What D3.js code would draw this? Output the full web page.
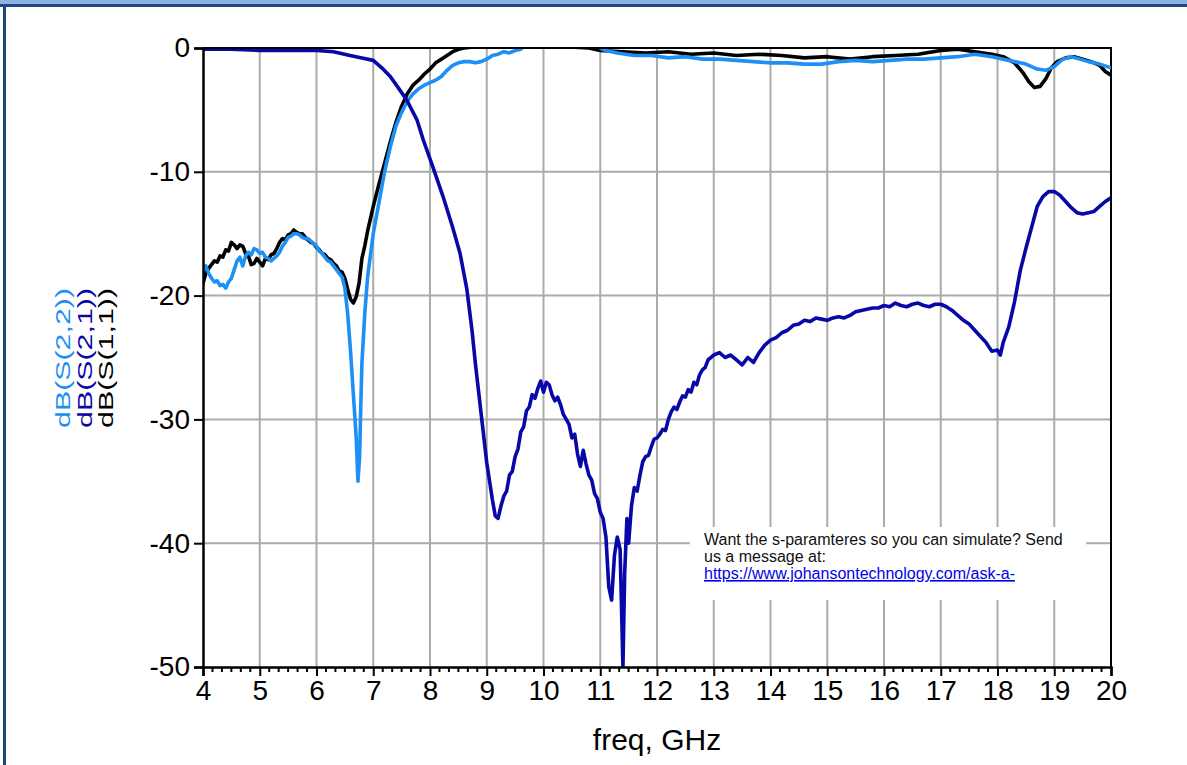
<!DOCTYPE html>
<html>
<head>
<meta charset="utf-8">
<script src="https://cdn.jsdelivr.net/npm/d3@7"></script>
<style>
  body { margin: 0; background: #fff; }
  text { font-family: "Liberation Sans", Arial, sans-serif; }
</style>
</head>
<body>
<svg id="chart" width="1187" height="765"></svg>
<script>
// ---- data ----
const xTicks = [4, 5, 6, 7, 8, 9, 10, 11, 12, 13, 14, 15, 16, 17, 18, 19, 20];
const yTicks = [0, -10, -20, -30, -40, -50];

const seriesNames = ["dB(S(2,2))", "dB(S(2,1))", "dB(S(1,1))"];
const seriesColors = ["#1e8ff5", "#0808a8", "#000000"];

// dB(S(1,1)) [freq GHz, dB]
const s11 = [
  [4.00, -19.0], [4.05, -18.2], [4.10, -17.8], [4.15, -17.5], [4.20, -17.2], [4.25, -17.3],
  [4.30, -16.8], [4.35, -16.9], [4.40, -16.3], [4.45, -16.4], [4.50, -15.7], [4.55, -15.9],
  [4.60, -16.2], [4.65, -15.9], [4.70, -16.0], [4.75, -16.6], [4.80, -16.8], [4.85, -17.5],
  [4.90, -17.4], [4.95, -17.0], [5.00, -17.3], [5.05, -17.6], [5.10, -17.0], [5.15, -17.1],
  [5.20, -16.7], [5.25, -16.6], [5.30, -16.2], [5.35, -15.7], [5.40, -15.4], [5.45, -15.5],
  [5.50, -15.1], [5.55, -15.0], [5.60, -14.7], [5.65, -14.9], [5.70, -15.0], [5.75, -15.0],
  [5.80, -15.3], [5.85, -15.5], [5.90, -15.7], [5.95, -15.8], [6.00, -16.1], [6.05, -16.3],
  [6.10, -16.6], [6.15, -16.7], [6.20, -17.0], [6.25, -17.1], [6.30, -17.4], [6.35, -17.6],
  [6.40, -18.0], [6.45, -18.1], [6.50, -18.6], [6.55, -19.5], [6.60, -20.3], [6.65, -20.6],
  [6.70, -20.1], [6.75, -19.0], [6.80, -17.0], [6.85, -16.0], [6.90, -14.8], [7.00, -12.8],
  [7.10, -11.0], [7.20, -9.3], [7.30, -7.6], [7.40, -6.0], [7.50, -4.7], [7.60, -3.7],
  [7.70, -3.0], [7.80, -2.6], [7.90, -2.1], [8.00, -1.7], [8.10, -1.2], [8.20, -0.9],
  [8.30, -0.6], [8.40, -0.3], [8.50, -0.1], [8.60, 0.0], [9.00, 0.2], [10.0, 0.2],
  [10.8, 0.0], [11.0, -0.2], [11.4, -0.3], [11.8, -0.4], [12.2, -0.3], [12.6, -0.5],
  [13.0, -0.4], [13.4, -0.6], [13.8, -0.5], [14.2, -0.6], [14.6, -0.8], [15.0, -0.7],
  [15.4, -0.9], [15.8, -0.7], [16.2, -0.6], [16.6, -0.5], [17.0, -0.2], [17.3, -0.1],
  [17.6, -0.3], [17.9, -0.5], [18.1, -0.7], [18.3, -1.2], [18.45, -2.0], [18.55, -2.7],
  [18.65, -3.2], [18.75, -3.1], [18.85, -2.5], [18.95, -1.6], [19.05, -1.1], [19.2, -0.8],
  [19.35, -0.7], [19.5, -0.9], [19.65, -1.1], [19.8, -1.4], [19.9, -1.9], [20.0, -2.2]
];

// dB(S(2,2))
const s22 = [
  [4.00, -18.0], [4.05, -17.6], [4.10, -18.2], [4.15, -18.6], [4.20, -18.9], [4.25, -18.8],
  [4.30, -19.2], [4.35, -19.1], [4.40, -19.4], [4.45, -18.9], [4.50, -18.6], [4.55, -17.9],
  [4.60, -17.2], [4.65, -16.9], [4.70, -17.6], [4.75, -16.8], [4.80, -16.5], [4.85, -16.7],
  [4.90, -16.2], [4.95, -16.3], [5.00, -16.6], [5.05, -16.5], [5.10, -16.9], [5.15, -17.0],
  [5.20, -17.2], [5.25, -17.0], [5.30, -16.8], [5.35, -16.5], [5.40, -16.0], [5.45, -15.7],
  [5.50, -15.3], [5.55, -15.2], [5.60, -15.0], [5.65, -15.0], [5.70, -15.1], [5.75, -15.3],
  [5.80, -15.4], [5.85, -15.4], [5.90, -15.6], [5.95, -15.8], [6.00, -16.0], [6.05, -16.4],
  [6.10, -16.6], [6.15, -16.9], [6.20, -17.2], [6.25, -17.3], [6.30, -17.6], [6.35, -17.9],
  [6.40, -18.2], [6.45, -18.5], [6.50, -19.4], [6.55, -21.5], [6.60, -24.5], [6.65, -28.0],
  [6.70, -31.5], [6.73, -35.0], [6.76, -33.0], [6.78, -29.0], [6.80, -25.5], [6.85, -21.5],
  [6.90, -18.5], [7.00, -15.0], [7.10, -12.5], [7.20, -10.0], [7.30, -8.0], [7.40, -6.3],
  [7.50, -5.2], [7.60, -4.3], [7.70, -3.7], [7.80, -3.3], [7.90, -3.0], [8.00, -2.8],
  [8.10, -2.6], [8.20, -2.3], [8.30, -1.8], [8.40, -1.4], [8.50, -1.2], [8.60, -1.1],
  [8.70, -1.1], [8.80, -1.2], [8.90, -1.1], [9.00, -0.9], [9.10, -0.6], [9.20, -0.5],
  [9.30, -0.3], [9.40, -0.4], [9.50, -0.2], [9.60, -0.1], [9.70, 0.4], [10.0, 0.6],
  [10.5, 0.5], [10.9, 0.3], [11.0, 0.0], [11.1, -0.2], [11.3, -0.4], [11.6, -0.6],
  [11.9, -0.6], [12.2, -0.8], [12.5, -0.7], [12.8, -0.9], [13.1, -0.9], [13.4, -1.0],
  [13.7, -1.1], [14.0, -1.2], [14.3, -1.2], [14.6, -1.3], [14.9, -1.3], [15.2, -1.1],
  [15.5, -1.0], [15.8, -1.1], [16.1, -1.0], [16.4, -0.9], [16.7, -0.9], [17.0, -0.8],
  [17.3, -0.7], [17.6, -0.5], [17.9, -0.7], [18.1, -0.9], [18.3, -1.1], [18.5, -1.3],
  [18.7, -1.7], [18.85, -1.8], [19.0, -1.5], [19.15, -0.9], [19.3, -0.7], [19.45, -0.9],
  [19.6, -1.1], [19.8, -1.3], [20.0, -1.6]
];

// dB(S(2,1))
const s21 = [
  [4.00, -0.1], [4.50, -0.1], [5.00, -0.2], [5.50, -0.2], [6.00, -0.2], [6.30, -0.3],
  [6.59, -0.6], [6.80, -0.8], [7.00, -1.0], [7.15, -1.6], [7.30, -2.3], [7.47, -3.4],
  [7.59, -4.2], [7.77, -5.8], [7.88, -7.4], [8.05, -9.6], [8.23, -12.0], [8.40, -14.5],
  [8.53, -16.6], [8.65, -19.5], [8.74, -22.8], [8.80, -25.5], [8.90, -29.5], [9.00, -33.5],
  [9.10, -36.5], [9.15, -37.8], [9.20, -38.0], [9.25, -37.0], [9.30, -36.2], [9.35, -35.8],
  [9.40, -34.5], [9.45, -34.2], [9.50, -33.0], [9.55, -32.4], [9.60, -31.0], [9.65, -30.6],
  [9.70, -29.3], [9.75, -29.0], [9.80, -28.0], [9.85, -28.3], [9.90, -27.5], [9.95, -26.9],
  [10.0, -27.8], [10.05, -27.0], [10.1, -27.2], [10.15, -28.0], [10.2, -28.5], [10.25, -28.2],
  [10.3, -28.8], [10.35, -29.6], [10.4, -30.0], [10.45, -30.4], [10.5, -31.5], [10.55, -31.2],
  [10.6, -32.8], [10.65, -33.8], [10.7, -32.5], [10.75, -33.6], [10.8, -34.5], [10.85, -34.9],
  [10.9, -36.0], [10.95, -36.4], [11.0, -37.5], [11.05, -38.0], [11.1, -39.5], [11.15, -43.5],
  [11.2, -44.6], [11.25, -41.0], [11.3, -39.5], [11.35, -40.5], [11.4, -50.0], [11.43, -42.5],
  [11.47, -38.0], [11.5, -40.0], [11.55, -37.0], [11.6, -35.5], [11.65, -35.8], [11.7, -34.5],
  [11.75, -33.4], [11.8, -33.0], [11.85, -32.9], [11.9, -32.2], [11.95, -31.6], [12.0, -31.5],
  [12.05, -31.2], [12.1, -30.8], [12.15, -30.9], [12.2, -30.0], [12.25, -29.4], [12.3, -29.0],
  [12.35, -29.2], [12.4, -28.6], [12.45, -28.1], [12.5, -28.2], [12.55, -27.6], [12.6, -27.8],
  [12.65, -27.0], [12.7, -27.2], [12.75, -26.4], [12.8, -26.0], [12.85, -25.8], [12.9, -25.2],
  [13.0, -24.8], [13.1, -24.6], [13.2, -25.0], [13.3, -24.8], [13.4, -25.2], [13.5, -25.6],
  [13.6, -25.0], [13.7, -25.4], [13.8, -24.6], [13.9, -24.0], [14.0, -23.6], [14.1, -23.4],
  [14.2, -23.0], [14.3, -22.8], [14.4, -22.4], [14.5, -22.3], [14.6, -22.0], [14.7, -22.1],
  [14.8, -21.8], [14.9, -21.9], [15.0, -22.0], [15.1, -21.8], [15.2, -21.7], [15.3, -21.8],
  [15.4, -21.6], [15.5, -21.3], [15.6, -21.2], [15.7, -21.1], [15.8, -21.0], [15.9, -21.0],
  [16.0, -20.8], [16.1, -20.9], [16.2, -20.6], [16.3, -20.8], [16.4, -20.9], [16.5, -20.7],
  [16.6, -20.6], [16.7, -20.8], [16.8, -20.9], [16.9, -20.7], [17.0, -20.7], [17.1, -20.9],
  [17.2, -21.2], [17.3, -21.6], [17.4, -22.0], [17.5, -22.3], [17.6, -22.8], [17.7, -23.3],
  [17.8, -23.8], [17.9, -24.5], [18.0, -24.4], [18.05, -24.8], [18.1, -23.8], [18.2, -22.5],
  [18.3, -20.5], [18.4, -18.0], [18.5, -16.2], [18.6, -14.5], [18.7, -12.8], [18.8, -12.0],
  [18.9, -11.6], [19.0, -11.6], [19.1, -11.9], [19.2, -12.4], [19.3, -12.9], [19.4, -13.3],
  [19.5, -13.4], [19.6, -13.3], [19.7, -13.2], [19.8, -12.8], [19.9, -12.4], [20.0, -12.1]
];

const noteLines = [
  "Want the s-paramteres so you can simulate? Send",
  "us a message at:"
];
const noteLink = "https://www.johansontechnology.com/ask-a-";

// ---- layout ----
const svg = d3.select("#chart");
const W = 1187, H = 765;
const margin = {left: 203, right: 76, top: 48, bottom: 98};

const x = d3.scaleLinear().domain([4, 20]).range([margin.left, W - margin.right]);
const y = d3.scaleLinear().domain([-50, 0]).range([H - margin.bottom, margin.top]);

svg.append("rect").attr("width", W).attr("height", H).attr("fill", "#fff");

// page frame (header band + left border)
svg.append("rect").attr("x", 0).attr("y", 0).attr("width", W).attr("height", 4).attr("fill", "#8db3e2");
svg.append("rect").attr("x", 0).attr("y", 4).attr("width", W).attr("height", 3).attr("fill", "#1f497d");
svg.append("rect").attr("x", 3).attr("y", 4).attr("width", 3).attr("height", H).attr("fill", "#1f497d");

// grid
const grid = svg.append("g").attr("stroke", "#a9aca9").attr("stroke-width", 2);
grid.selectAll(".vg").data(xTicks.slice(1, -1)).join("line")
    .attr("x1", d => x(d)).attr("x2", d => x(d))
    .attr("y1", y(0)).attr("y2", y(-50));
grid.selectAll(".hg").data(yTicks.slice(1, -1)).join("line")
    .attr("x1", x(4)).attr("x2", x(20))
    .attr("y1", d => y(d)).attr("y2", d => y(d));

// annotation box covers grid
const note = svg.append("g");
note.append("rect")
    .attr("x", 690).attr("y", 527).attr("width", 396).attr("height", 73)
    .attr("fill", "#fff");
note.selectAll(".nl").data(noteLines).join("text")
    .attr("x", 704).attr("y", (d, i) => 545 + i * 16.5)
    .attr("font-size", 16).attr("fill", "#111")
    .text(d => d);
note.append("text")
    .attr("x", 704).attr("y", 579)
    .attr("font-size", 16).attr("fill", "#0000ee")
    .attr("text-decoration", "underline")
    .text(noteLink);

// frame top and right
svg.append("path")
    .attr("d", `M${x(4)},${y(0)}H${x(20)}V${y(-50)}`)
    .attr("fill", "none").attr("stroke", "#000").attr("stroke-width", 2);

// curves
svg.append("clipPath").attr("id", "plotclip")
  .append("rect")
    .attr("x", x(4)).attr("y", y(0) + 1)
    .attr("width", x(20) - x(4)).attr("height", y(-50) - y(0));

const line = d3.line().x(d => x(d[0])).y(d => y(d[1]));
const curves = [
  {data: s11, color: seriesColors[2]},
  {data: s22, color: seriesColors[0]},
  {data: s21, color: seriesColors[1]}
];
svg.append("g").attr("clip-path", "url(#plotclip)")
  .selectAll("path").data(curves).join("path")
    .attr("fill", "none")
    .attr("stroke", d => d.color)
    .attr("stroke-width", 3.6)
    .attr("stroke-linejoin", "round")
    .attr("d", d => line(d.data));

// axes
const xAxis = d3.axisBottom(x).tickValues(xTicks).tickSize(9).tickPadding(4).tickFormat(d3.format("d"));
const gx = svg.append("g").attr("transform", `translate(0,${y(-50)})`).call(xAxis);
gx.select(".domain").attr("stroke-width", 2.5);
gx.selectAll(".tick line").attr("stroke-width", 2);
gx.selectAll(".tick text").attr("font-size", 28).attr("fill", "#000");

const minorTicks = [];
xTicks.slice(0, -1).forEach(t => { for (let k = 1; k < 6; k++) minorTicks.push(t + k / 6); });
gx.selectAll(".minor").data(minorTicks).join("line")
    .attr("class", "minor")
    .attr("x1", d => x(d)).attr("x2", d => x(d))
    .attr("y1", 0).attr("y2", 5)
    .attr("stroke", "#000").attr("stroke-width", 2);

const yAxis = d3.axisLeft(y).tickValues(yTicks).tickSize(9).tickPadding(4).tickFormat(d3.format("d"));
const gy = svg.append("g").attr("transform", `translate(${x(4)},0)`).call(yAxis);
gy.select(".domain").attr("stroke-width", 2.5);
gy.selectAll(".tick line").attr("stroke-width", 2);
gy.selectAll(".tick text").attr("font-size", 28).attr("fill", "#000")
    .text(d => d === 0 ? "0" : "-" + Math.abs(d));

// axis titles
svg.append("text")
    .attr("x", (x(4) + x(20)) / 2).attr("y", 750)
    .attr("text-anchor", "middle").attr("font-size", 30)
    .text("freq, GHz");

svg.selectAll(".ylab").data(seriesNames).join("text")
    .attr("class", "ylab")
    .attr("transform", (d, i) => `translate(${70 + i * 21.5},358) rotate(-90)`)
    .attr("text-anchor", "middle").attr("font-size", 21)
    .attr("textLength", 140).attr("lengthAdjust", "spacingAndGlyphs")
    .attr("fill", (d, i) => seriesColors[i])
    .text(d => d);
</script>
</body>
</html>
